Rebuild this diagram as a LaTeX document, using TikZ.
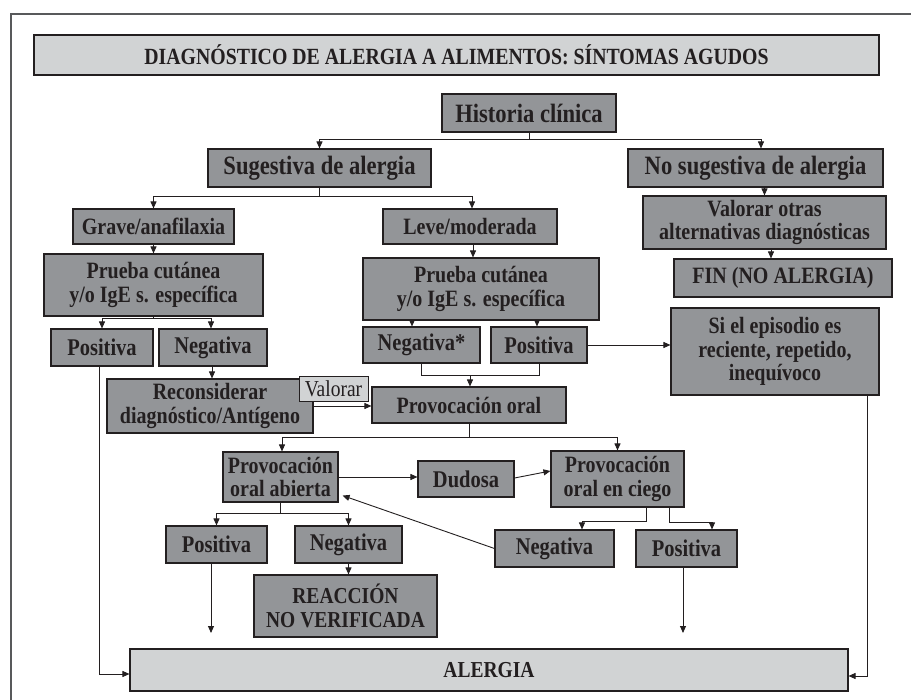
\documentclass[tikz,border=0pt]{standalone}
\usepackage{fontspec}
\usepackage{graphicx}
\setmainfont{Liberation Serif}
\usetikzlibrary{arrows.meta,calc}
\newcommand\tallt[1]{\scalebox{1}[1.17]{#1}}
\definecolor{boxgray}{HTML}{939598}
\definecolor{lightgray}{HTML}{D1D3D4}
\definecolor{ink}{HTML}{231F20}
\definecolor{framecol}{HTML}{58595B}
\tikzset{
  dbox/.style={draw=ink, fill=boxgray, line width=1.1pt, inner sep=0pt, align=center,
    text=ink, font=\fontsize{20}{23.5}\selectfont\bfseries},
  bigbox/.style={dbox, font=\fontsize{22.6}{25}\selectfont\bfseries},
  midbox/.style={dbox, font=\fontsize{20.5}{23.5}\selectfont\bfseries},
  lbox/.style={dbox, fill=lightgray},
  tagbox/.style={draw=ink, fill=lightgray, line width=0.9pt, inner sep=0pt, text=ink,
    font=\fontsize{19.5}{22}\selectfont},
  arr/.style={draw=ink, line width=0.9pt, -{Triangle[length=7pt,width=6pt]}},
  ln/.style={draw=ink, line width=0.9pt},
}
\begin{document}
\begin{tikzpicture}[x=1pt,y=-1pt]
\useasboundingbox (0,0) rectangle (911,700);
\fill[white] (0,0) rectangle (911,700);
\draw[framecol, line width=2pt] (11,701) -- (11,14) -- (912,14);

% nodes
\node[lbox, minimum width=845, minimum height=40, font=\fontsize{19.8}{22}\selectfont\bfseries] (title) at (456.5,55) {\tallt{DIAGNÓSTICO DE ALERGIA A ALIMENTOS: SÍNTOMAS AGUDOS}};
\node[bigbox, minimum width=174, minimum height=38] (hist) at (529,113) {\tallt{Historia clínica}};
\node[bigbox, minimum width=223, minimum height=38] (sug) at (319.5,168) {\tallt{Sugestiva de alergia}};
\node[bigbox, minimum width=255, minimum height=38] (nosug) at (755.5,168) {\tallt{No sugestiva de alergia}};
\node[dbox, minimum width=161, minimum height=35] (grave) at (153.5,226.5) {\tallt{Grave/anafilaxia}};
\node[dbox, minimum width=174, minimum height=35] (leve) at (470,226.5) {\tallt{Leve/moderada}};
\node[dbox, minimum width=243, minimum height=53] (valotras) at (764.5,222.5) {\tallt{Valorar otras}\\\tallt{alternativas diagnósticas}};
\node[dbox, minimum width=218, minimum height=38] (fin) at (783,278) {\tallt{FIN (NO ALERGIA)}};
\node[dbox, minimum width=208, minimum height=87] (siep) at (775,351.5) {\tallt{Si el episodio es}\\\tallt{reciente, repetido,}\\\tallt{inequívoco}};
\node[dbox, minimum width=219, minimum height=62] (prueba1) at (153.5,285) {\tallt{Prueba cutánea}\\\tallt{y/o IgE s. específica}};
\node[dbox, minimum width=236, minimum height=62] (prueba2) at (481,289) {\tallt{Prueba cutánea}\\\tallt{y/o IgE s. específica}};
\node[midbox, minimum width=102, minimum height=37] (pos1) at (102,347.5) {\tallt{Positiva}};
\node[midbox, minimum width=108, minimum height=37] (neg1) at (213,347.5) {\tallt{Negativa}};
\node[midbox, minimum width=117, minimum height=36] (negstar) at (421.5,345) {\tallt{Negativa*}};
\node[midbox, minimum width=96, minimum height=36] (pos2) at (539,345) {\tallt{Positiva}};
\node[dbox, minimum width=206, minimum height=54] (recon) at (210,406) {\tallt{Reconsiderar}\\\tallt{diagnóstico/Antígeno}};
\node[tagbox, minimum width=69, minimum height=25] (valorar) at (333.5,388.5) {\tallt{Valorar}};
\node[dbox, minimum width=194, minimum height=36] (provo) at (469,405) {\tallt{Provocación oral}};
\node[dbox, minimum width=115, minimum height=50, font=\fontsize{20}{22.5}\selectfont\bfseries] (abierta) at (280.5,477) {\tallt{Provocación}\\\tallt{oral abierta}};
\node[midbox, minimum width=96, minimum height=36] (dudosa) at (466,479) {\tallt{Dudosa}};
\node[dbox, minimum width=133, minimum height=56] (ciego) at (617.5,479) {\tallt{Provocación}\\\tallt{oral en ciego}};
\node[midbox, minimum width=119, minimum height=37] (neg3) at (554.5,548.5) {\tallt{Negativa}};
\node[midbox, minimum width=101, minimum height=37] (pos3) at (686.5,548.5) {\tallt{Positiva}};
\node[midbox, minimum width=101, minimum height=37] (pos4) at (216.5,544.5) {\tallt{Positiva}};
\node[midbox, minimum width=107, minimum height=37] (neg4) at (348.5,544.5) {\tallt{Negativa}};
\node[dbox, minimum width=183, minimum height=62, font=\fontsize{19.5}{24}\selectfont\bfseries] (reac) at (345.5,606) {\tallt{REACCIÓN}\\\tallt{NO VERIFICADA}};
\node[lbox, minimum width=718, minimum height=42, font=\fontsize{19.5}{23.5}\selectfont\bfseries] (alergia) at (489,670) {\tallt{ALERGIA}};

\coordinate (e3) at (683,633);
\coordinate (e4) at (211,633);

% connectors
\draw[arr] (hist.south) -- ++(0,7) -| (sug.north);
\draw[arr] (hist.south) -- ++(0,7) -| ([xshift=5.5pt]nosug.north);
\draw[arr] (sug.south) -- ++(0,9) -| (grave.north);
\draw[arr] (sug.south) -- ++(0,9) -| ([xshift=2pt]leve.north);
\draw[arr] (valotras.north |- nosug.south) -- (valotras.north);
\draw[arr] ([xshift=6.5pt]valotras.south) -- ([xshift=-12pt]fin.north);
\draw[arr] (grave.south) -- (prueba1.north);
\draw[arr] ([xshift=3pt]leve.south) -- ([xshift=3pt]leve.south |- prueba2.north);
\draw[arr] (prueba1.south) -- ++(0,2) -| (pos1.north);
\draw[arr] (prueba1.south) -- ++(0,2) -| ([xshift=-2pt]neg1.north);
\draw[arr] ([xshift=-9.5pt]negstar.north |- prueba2.south) -- ([xshift=-9.5pt]negstar.north);
\draw[arr] ([xshift=-2pt]pos2.north |- prueba2.south) -- ([xshift=-2pt]pos2.north);
\draw[ln] (negstar.south) -- ++(0,12) coordinate (nb) -| (pos2.south);
\draw[arr] ([xshift=1pt]nb -| provo.north) -- ([xshift=1pt]provo.north);
\draw[arr] (pos2.east) -- (pos2.east -| siep.west);
\draw[arr] ([xshift=-1pt]neg1.south) -- ([xshift=-1pt]neg1.south |- recon.north);
\draw[arr] (recon.east) -- (recon.east -| provo.west);
\draw[arr] (provo.south) -- ++(0,14) -| ([xshift=1.5pt]abierta.north);
\draw[arr] (provo.south) -- ++(0,14) -| (ciego.north);
\draw[arr] (abierta.east) -- (abierta.east -| dudosa.west);
\draw[arr] ([yshift=1pt]dudosa.east) -- ([yshift=8pt]ciego.west);
\draw[arr] ([xshift=28.5pt]ciego.south) -- ++(0,14) -| ([xshift=27.5pt]neg3.north);
\draw[arr] ([xshift=51.5pt]ciego.south) -- ++(0,15) -| ([xshift=25.5pt]pos3.north);
\draw[arr] (neg3.west) -- ([xshift=4pt,yshift=7pt]abierta.south east);
\draw[arr] (pos3.south -| e3) -- (e3);
\draw[arr] (abierta.south) -- ++(0,11) -| (pos4.north);
\draw[arr] (abierta.south) -- ++(0,11) -| (neg4.north);
\draw[arr] (pos4.south -| e4) -- (e4);
\draw[arr] (neg4.south) -- (neg4.south |- reac.north);
\draw[arr] ([xshift=-3pt]pos1.south) |- ([yshift=-4pt]alergia.west);
\draw[arr] ([xshift=92pt]siep.south) |- ([yshift=-6pt]alergia.east);
\end{tikzpicture}
\end{document}
